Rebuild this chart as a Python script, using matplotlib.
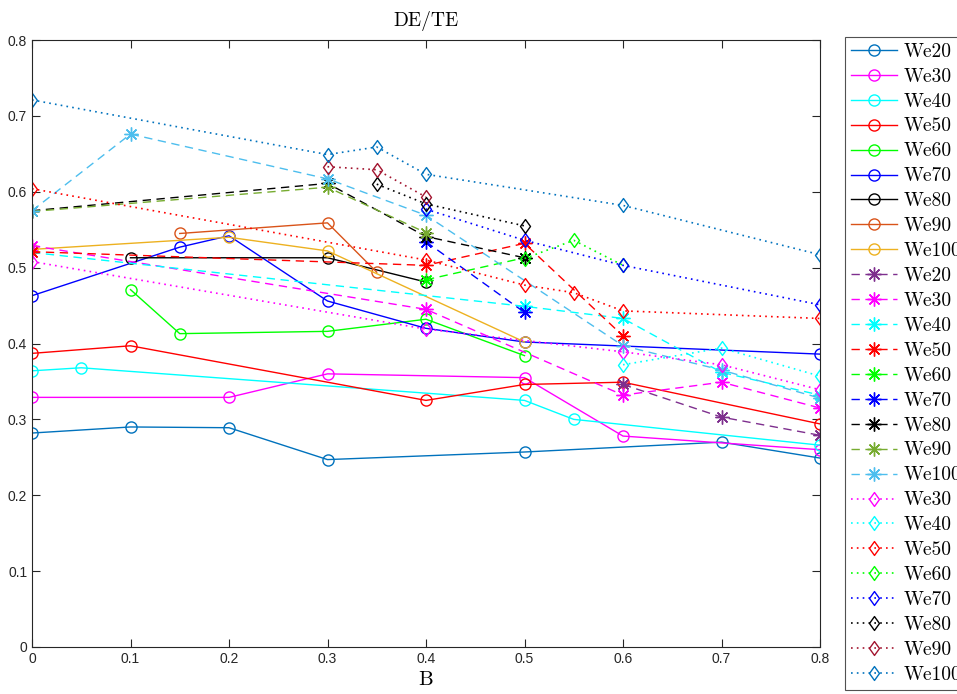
import numpy as np
import matplotlib
matplotlib.use("Agg")
from matplotlib import pyplot as plt
from matplotlib.path import Path

# 颜色 (MATLAB 默认)
C_BLUE = "#0072BD"
C_ORANGE = "#D95319"
C_YELLOW = "#EDB120"
C_PURPLE = "#7E2F8E"
C_OLIVE = "#77AC30"
C_LBLUE = "#4DBEEE"
C_DRED = "#A2142F"
C_M = "#FF00FF"
C_C = "#00FFFF"
C_R = "#FF0000"
C_G = "#00FF00"
C_B = "#0000FF"
C_K = "#000000"

# 圆圈 实线
b_c20 = [0, 0.1, 0.2, 0.3, 0.5, 0.7, 0.8]
v_c20 = [0.282, 0.290, 0.289, 0.247, 0.257, 0.270, 0.249]
b_c30 = [0, 0.2, 0.3, 0.5, 0.6, 0.8]
v_c30 = [0.329, 0.329, 0.360, 0.355, 0.278, 0.260]
b_c40 = [0, 0.05, 0.5, 0.55, 0.8]
v_c40 = [0.364, 0.368, 0.325, 0.300, 0.266]
b_c50 = [0, 0.1, 0.4, 0.5, 0.6, 0.8]
v_c50 = [0.387, 0.397, 0.325, 0.346, 0.349, 0.294]
b_c60 = [0.1, 0.15, 0.3, 0.4, 0.5]
v_c60 = [0.471, 0.413, 0.416, 0.432, 0.384]
b_c70 = [0, 0.15, 0.2, 0.3, 0.4, 0.5, 0.8]
v_c70 = [0.463, 0.527, 0.542, 0.456, 0.420, 0.402, 0.386]
b_c80 = [0.1, 0.3, 0.4]
v_c80 = [0.513, 0.513, 0.481]
b_c90 = [0.15, 0.3, 0.35]
v_c90 = [0.545, 0.559, 0.494]
b_c100 = [0, 0.2, 0.3, 0.5]
v_c100 = [0.524, 0.540, 0.522, 0.402]

# 星号 虚线
b_s20 = [0.6, 0.7, 0.8]
v_s20 = [0.346, 0.303, 0.279]
b_s30 = [0, 0.4, 0.6, 0.7, 0.8]
v_s30 = [0.529, 0.445, 0.332, 0.349, 0.315]
b_s40 = [0, 0.5, 0.6, 0.7, 0.8]
v_s40 = [0.520, 0.449, 0.433, 0.362, 0.332]
b_s50 = [0, 0.4, 0.5, 0.6]
v_s50 = [0.521, 0.503, 0.532, 0.410]
b_s60 = [0.4, 0.5]
v_s60 = [0.484, 0.513]
b_s70 = [0.4, 0.5]
v_s70 = [0.534, 0.441]
b_s80 = [0, 0.3, 0.4, 0.5]
v_s80 = [0.575, 0.611, 0.541, 0.513]
b_s90 = [0, 0.3, 0.4]
v_s90 = [0.574, 0.606, 0.546]
b_s100 = [0, 0.1, 0.3, 0.4, 0.6, 0.7, 0.8]
v_s100 = [0.575, 0.676, 0.617, 0.569, 0.397, 0.365, 0.328]

# 菱形 点线
b_d30 = [0, 0.4, 0.6, 0.7, 0.8]
v_d30 = [0.508, 0.419, 0.389, 0.372, 0.339]
b_d40 = [0.6, 0.7, 0.8]
v_d40 = [0.372, 0.394, 0.357]
b_d50 = [0, 0.4, 0.5, 0.55, 0.6, 0.8]
v_d50 = [0.604, 0.510, 0.477, 0.467, 0.443, 0.433]
b_d60 = [0.5, 0.55, 0.6]
v_d60 = [0.512, 0.536, 0.503]
b_d70 = [0.4, 0.5, 0.6, 0.8]
v_d70 = [0.577, 0.536, 0.503, 0.451]
b_d80 = [0.35, 0.4, 0.5]
v_d80 = [0.610, 0.584, 0.555]
b_d90 = [0.3, 0.35, 0.4]
v_d90 = [0.633, 0.629, 0.593]
b_d100 = [0, 0.3, 0.35, 0.4, 0.6, 0.8]
v_d100 = [0.721, 0.649, 0.659, 0.623, 0.582, 0.517]

circles = [(b_c20, v_c20, C_BLUE, "We20"), (b_c30, v_c30, C_M, "We30"),
           (b_c40, v_c40, C_C, "We40"), (b_c50, v_c50, C_R, "We50"),
           (b_c60, v_c60, C_G, "We60"), (b_c70, v_c70, C_B, "We70"),
           (b_c80, v_c80, C_K, "We80"), (b_c90, v_c90, C_ORANGE, "We90"),
           (b_c100, v_c100, C_YELLOW, "We100")]
stars = [(b_s20, v_s20, C_PURPLE, "We20"), (b_s30, v_s30, C_M, "We30"),
         (b_s40, v_s40, C_C, "We40"), (b_s50, v_s50, C_R, "We50"),
         (b_s60, v_s60, C_G, "We60"), (b_s70, v_s70, C_B, "We70"),
         (b_s80, v_s80, C_K, "We80"), (b_s90, v_s90, C_OLIVE, "We90"),
         (b_s100, v_s100, C_LBLUE, "We100")]
diamonds = [(b_d30, v_d30, C_M, "We30"), (b_d40, v_d40, C_C, "We40"),
            (b_d50, v_d50, C_R, "We50"), (b_d60, v_d60, C_G, "We60"),
            (b_d70, v_d70, C_B, "We70"), (b_d80, v_d80, C_K, "We80"),
            (b_d90, v_d90, C_DRED, "We90"), (b_d100, v_d100, C_BLUE, "We100")]

# MATLAB 风格菱形 (略高)
diamond = Path([(0, 1), (0.72, 0), (0, -1), (-0.72, 0), (0, 1)],
               [Path.MOVETO, Path.LINETO, Path.LINETO, Path.LINETO, Path.CLOSEPOLY])

plt.rcParams["font.family"] = ["Liberation Sans", "DejaVu Sans"]
plt.rcParams["lines.dashed_pattern"] = [6, 4]
plt.rcParams["lines.dotted_pattern"] = [1, 2.5]

fig = plt.figure(figsize=(9.57, 6.94), dpi=100)
ax = fig.add_axes([32 / 957, 1 - 647 / 694, 788 / 957, 607 / 694])

for b, v, col, lab in circles:
    ax.plot(b, v, "-", color=col, lw=1, marker="o", ms=8, mfc="none", mew=1, label=lab)
for b, v, col, lab in stars:
    ax.plot(b, v, "--", color=col, lw=1, marker=(8, 2, 0), ms=10, mew=1, label=lab)
for b, v, col, lab in diamonds:
    ax.plot(b, v, ":", color=col, lw=1.2, marker=diamond, ms=10, mfc="none", mew=1, label=lab)

ax.set_xlim(0, 0.8)
ax.set_ylim(0, 0.8)
ax.set_xticks(np.arange(0, 0.81, 0.1))
ax.set_yticks(np.arange(0, 0.81, 0.1))
ax.set_xticklabels(["0", "0.1", "0.2", "0.3", "0.4", "0.5", "0.6", "0.7", "0.8"])
ax.set_yticklabels(["0", "0.1", "0.2", "0.3", "0.4", "0.5", "0.6", "0.7", "0.8"])
ax.tick_params(direction="in", top=True, right=True, length=6, width=0.8,
               labelsize=10, colors="#262626")
for s in ax.spines.values():
    s.set_color("#262626")
    s.set_linewidth(0.8)

ax.set_title("DE/TE", family="cmr10", fontsize=14, pad=10)
ax.set_xlabel("B", family="cmr10", fontsize=15, labelpad=4)

leg = ax.legend(loc="upper left", bbox_to_anchor=(1.0317, 1.005), prop={"family": "cmr10", "size": 14},
                frameon=True, fancybox=False, edgecolor="#262626", labelspacing=0.36,
                handlelength=2.4, handletextpad=0.3, borderaxespad=0, borderpad=0.3)
leg.get_frame().set_linewidth(0.8)

fig.savefig("out.png", dpi=100)
